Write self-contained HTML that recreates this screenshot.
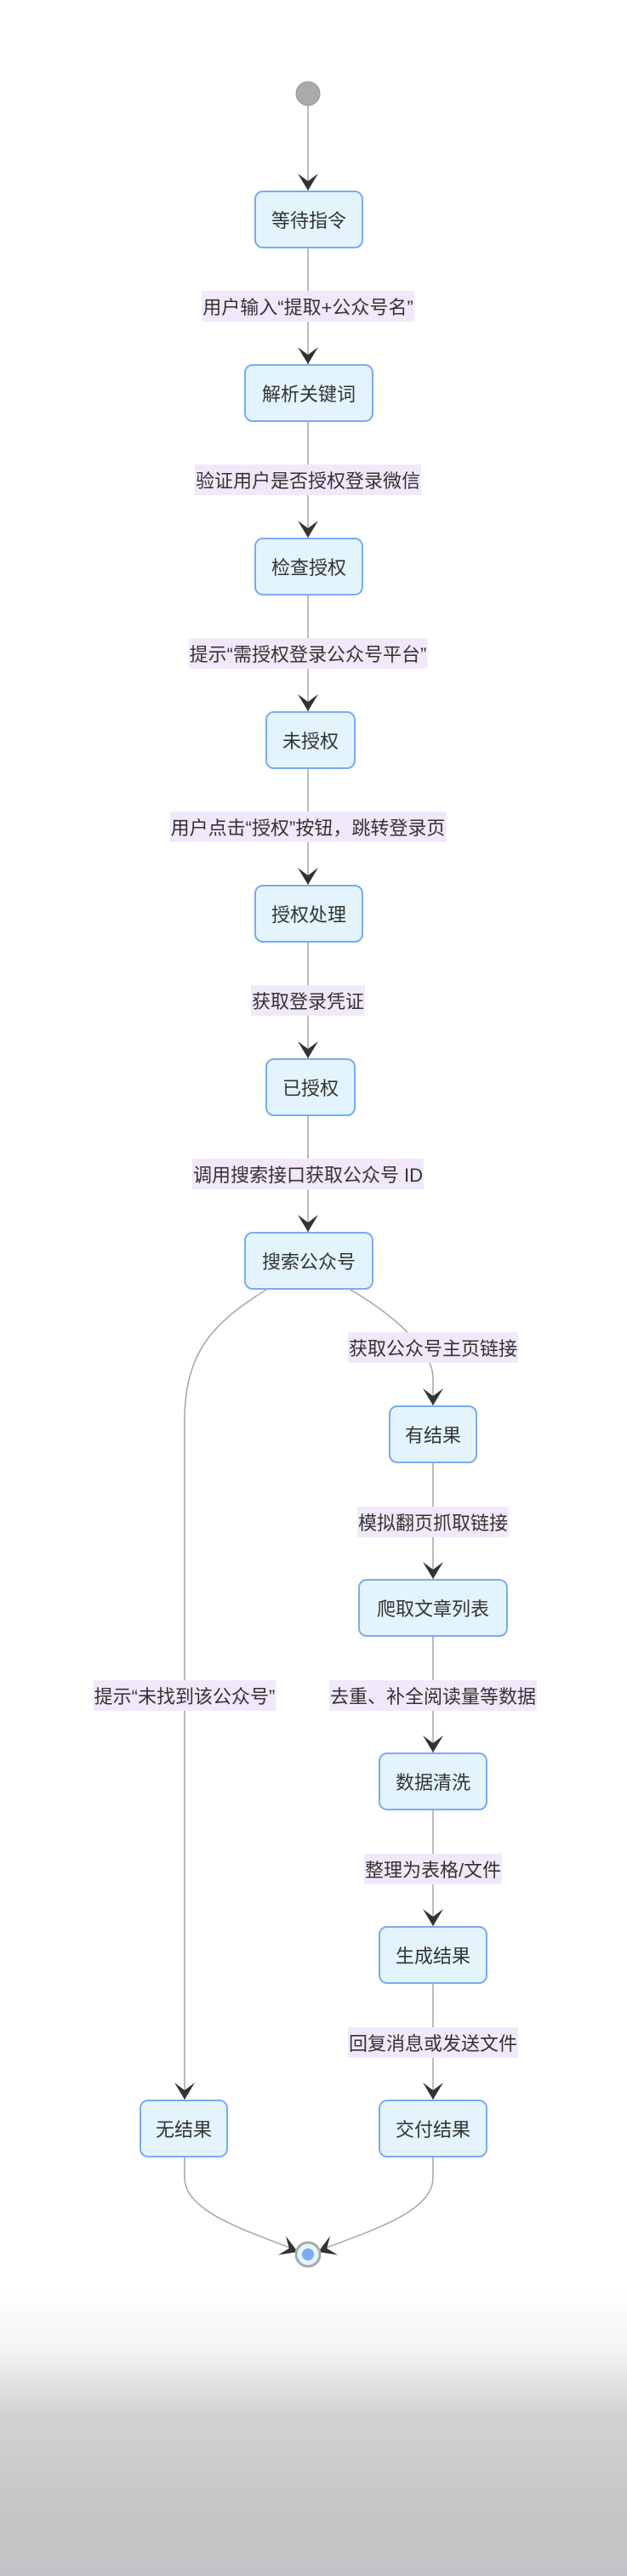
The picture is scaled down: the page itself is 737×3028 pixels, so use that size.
<!DOCTYPE html>
<html><head><meta charset="utf-8">
<style>
html,body{margin:0;padding:0;}
body{width:737px;height:3028px;position:relative;overflow:hidden;
background:linear-gradient(to bottom,#fff 0px,#fff 2690px,#f4f4f4 2760px,#d2d2d2 2840px,#c4c5c7 2960px,#c2c3c6 3028px);
font-family:"Liberation Sans","Noto Sans CJK SC",sans-serif;}
svg{position:absolute;left:0;top:0;}
.n{position:absolute;height:68px;box-sizing:border-box;border:2px solid #7aaaf5;background:#e3f4fd;border-radius:10px;
display:flex;align-items:center;justify-content:center;font-size:22px;color:#333;white-space:nowrap;}
.l{position:absolute;height:36px;background:#f1e9fb;font-size:22px;color:#333;white-space:nowrap;display:flex;align-items:center;transform:translateX(-50%);padding:0 1px;}
</style></head><body>
<svg width="737" height="3028" viewBox="0 0 737 3028">
<defs>
<path id="ah" d="M0,0 L-12,-20 L0,-11 L12,-20 Z" fill="#333"/>
</defs>
<g stroke="#aaa" stroke-width="1.6" fill="none">
<line x1="362" y1="124" x2="362" y2="224"/>
<line x1="362" y1="292" x2="362" y2="428"/>
<line x1="362" y1="496" x2="362" y2="632"/>
<line x1="362" y1="700" x2="362" y2="836"/>
<line x1="362" y1="904" x2="362" y2="1040"/>
<line x1="362" y1="1108" x2="362" y2="1244"/>
<line x1="362" y1="1312" x2="362" y2="1448"/>
<path d="M313,1516 C250,1555 217,1590 217,1670 L217,2468"/>
<path d="M412,1516 C470,1550 509,1590 509,1620 L509,1652"/>
<line x1="509" y1="1720" x2="509" y2="1856"/>
<line x1="509" y1="1924" x2="509" y2="2060"/>
<line x1="509" y1="2128" x2="509" y2="2264"/>
<line x1="509" y1="2332" x2="509" y2="2468"/>
<path d="M217,2536 L217,2560 C217,2600 290,2622 348,2645"/>
<path d="M509,2536 L509,2560 C509,2600 436,2622 376,2645"/>
</g>
<use href="#ah" x="362" y="224"/>
<use href="#ah" x="362" y="428"/>
<use href="#ah" x="362" y="632"/>
<use href="#ah" x="362" y="836"/>
<use href="#ah" x="362" y="1040"/>
<use href="#ah" x="362" y="1244"/>
<use href="#ah" x="362" y="1448"/>
<use href="#ah" x="509" y="1652"/>
<use href="#ah" x="509" y="1856"/>
<use href="#ah" x="509" y="2060"/>
<use href="#ah" x="509" y="2264"/>
<use href="#ah" x="509" y="2468"/>
<use href="#ah" x="217" y="2468"/>
<use href="#ah" transform="translate(350,2647) rotate(-68)"/>
<use href="#ah" transform="translate(374,2647) rotate(68)"/>
<circle cx="362" cy="110" r="14" fill="#aaa" stroke="#999" stroke-width="1"/>
<circle cx="362" cy="2650" r="14" fill="#e3f4fd" stroke="#aaa" stroke-width="3"/>
<circle cx="362" cy="2650" r="7" fill="#7aaaf5"/>
</svg>

<div class="n" style="left:299px;top:224px;width:128px">等待指令</div>
<div class="n" style="left:287px;top:428px;width:152px">解析关键词</div>
<div class="n" style="left:299px;top:632px;width:128px">检查授权</div>
<div class="n" style="left:312px;top:836px;width:106px">未授权</div>
<div class="n" style="left:299px;top:1040px;width:128px">授权处理</div>
<div class="n" style="left:312px;top:1244px;width:106px">已授权</div>
<div class="n" style="left:287px;top:1448px;width:152px">搜索公众号</div>
<div class="n" style="left:457px;top:1652px;width:104px">有结果</div>
<div class="n" style="left:421px;top:1856px;width:176px">爬取文章列表</div>
<div class="n" style="left:445px;top:2060px;width:128px">数据清洗</div>
<div class="n" style="left:445px;top:2264px;width:128px">生成结果</div>
<div class="n" style="left:164px;top:2468px;width:104px">无结果</div>
<div class="n" style="left:445px;top:2468px;width:128px">交付结果</div>

<div class="l" style="left:362px;top:342px">用户输入“提取+公众号名”</div>
<div class="l" style="left:362px;top:546px">验证用户是否授权登录微信</div>
<div class="l" style="left:362px;top:750px">提示“需授权登录公众号平台”</div>
<div class="l" style="left:362px;top:954px">用户点击“授权”按钮，跳转登录页</div>
<div class="l" style="left:362px;top:1158px">获取登录凭证</div>
<div class="l" style="left:362px;top:1362px">调用搜索接口获取公众号 ID</div>
<div class="l" style="left:509px;top:1566px">获取公众号主页链接</div>
<div class="l" style="left:509px;top:1771px">模拟翻页抓取链接</div>
<div class="l" style="left:509px;top:1975px">去重、补全阅读量等数据</div>
<div class="l" style="left:217px;top:1975px">提示“未找到该公众号”</div>
<div class="l" style="left:509px;top:2179px">整理为表格/文件</div>
<div class="l" style="left:509px;top:2383px">回复消息或发送文件</div>
</body></html>
